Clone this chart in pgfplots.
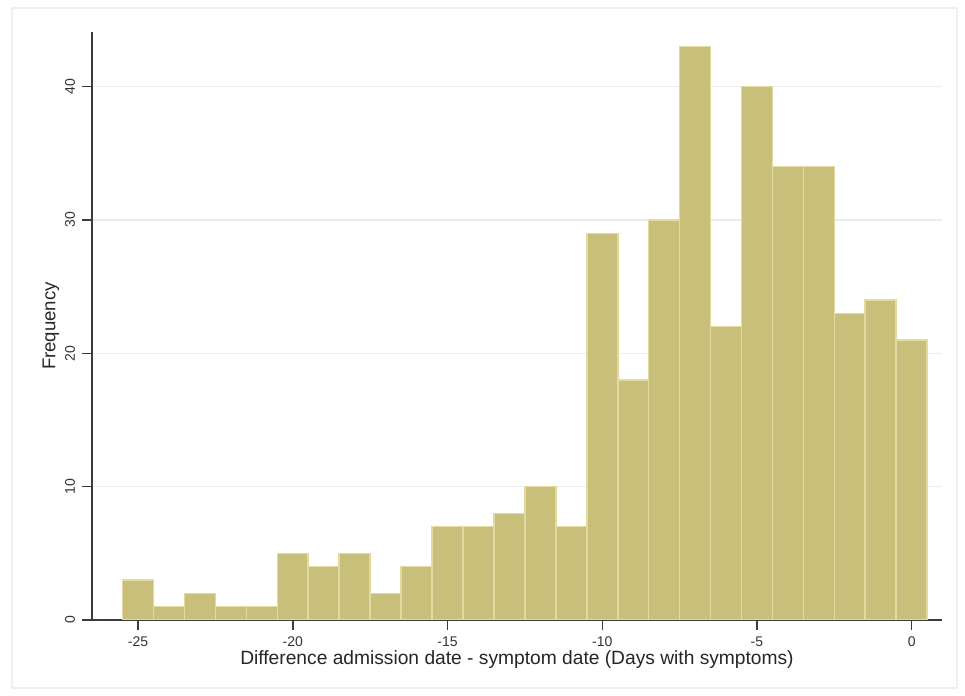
\documentclass[border=0pt]{standalone}
\usepackage{pgfplots}
\pgfplotsset{compat=1.18}
\usepackage{fontspec}
\setmainfont{Liberation Sans}
\definecolor{barfill}{RGB}{200,191,122}
\definecolor{baredge}{RGB}{226,218,160}
\definecolor{gridc}{RGB}{236,236,236}
\definecolor{framec}{RGB}{240,240,240}
\definecolor{axisc}{RGB}{60,60,60}
\begin{document}
\begin{tikzpicture}[x=0.5pt,y=0.5pt]
% page = 965 x 696 px, 1 px = 0.5pt; axis origin at pixel (92,620)
\useasboundingbox (-92,-76) rectangle (873,620);
\draw[color=framec, line width=0.6pt] (-80,-68) rectangle (865,612);
\begin{axis}[
    at={(0,0)}, anchor=south west,
    scale only axis,
    width=425pt, height=294pt,
    xmin=-26.49, xmax=0.98,
    ymin=0, ymax=44.1,
    axis x line*=bottom, axis y line*=left,
    axis line style={color=axisc, line width=0.7pt},
    xtick={-25,-20,-15,-10,-5,0},
    ytick={0,10,20,30,40},
    tick align=outside,
    major tick length=5pt,
    tick style={color=axisc, line width=0.7pt},
    ymajorgrids,
    grid style={color=gridc, line width=0.6pt},
    yticklabel style={rotate=90, anchor=south, font=\fontsize{7}{8}\selectfont, text=black!80},
    xticklabel style={font=\fontsize{7}{8}\selectfont, text=black!80},
    /pgf/number format/assume math mode=true,
    xlabel={Difference admission date - symptom date (Days with symptoms)},
    ylabel={Frequency},
    xlabel style={font=\fontsize{9.6}{10}\selectfont, text=black!85, yshift=5pt},
    ylabel style={font=\fontsize{9.3}{10}\selectfont, text=black!85, yshift=-4pt},
    ybar, bar width=1, bar shift=0,
]
\addplot[fill=barfill, draw=baredge, line width=0.8pt]
    coordinates {
        (-25,3)(-24,1)(-23,2)(-22,1)(-21,1)(-20,5)(-19,4)(-18,5)
        (-17,2)(-16,4)(-15,7)(-14,7)(-13,8)(-12,10)(-11,7)
        (-10,29)(-9,18)(-8,30)(-7,43)(-6,22)(-5,40)(-4,34)
        (-3,34)(-2,23)(-1,24)(0,21)
    };
\end{axis}
\end{tikzpicture}
\end{document}
